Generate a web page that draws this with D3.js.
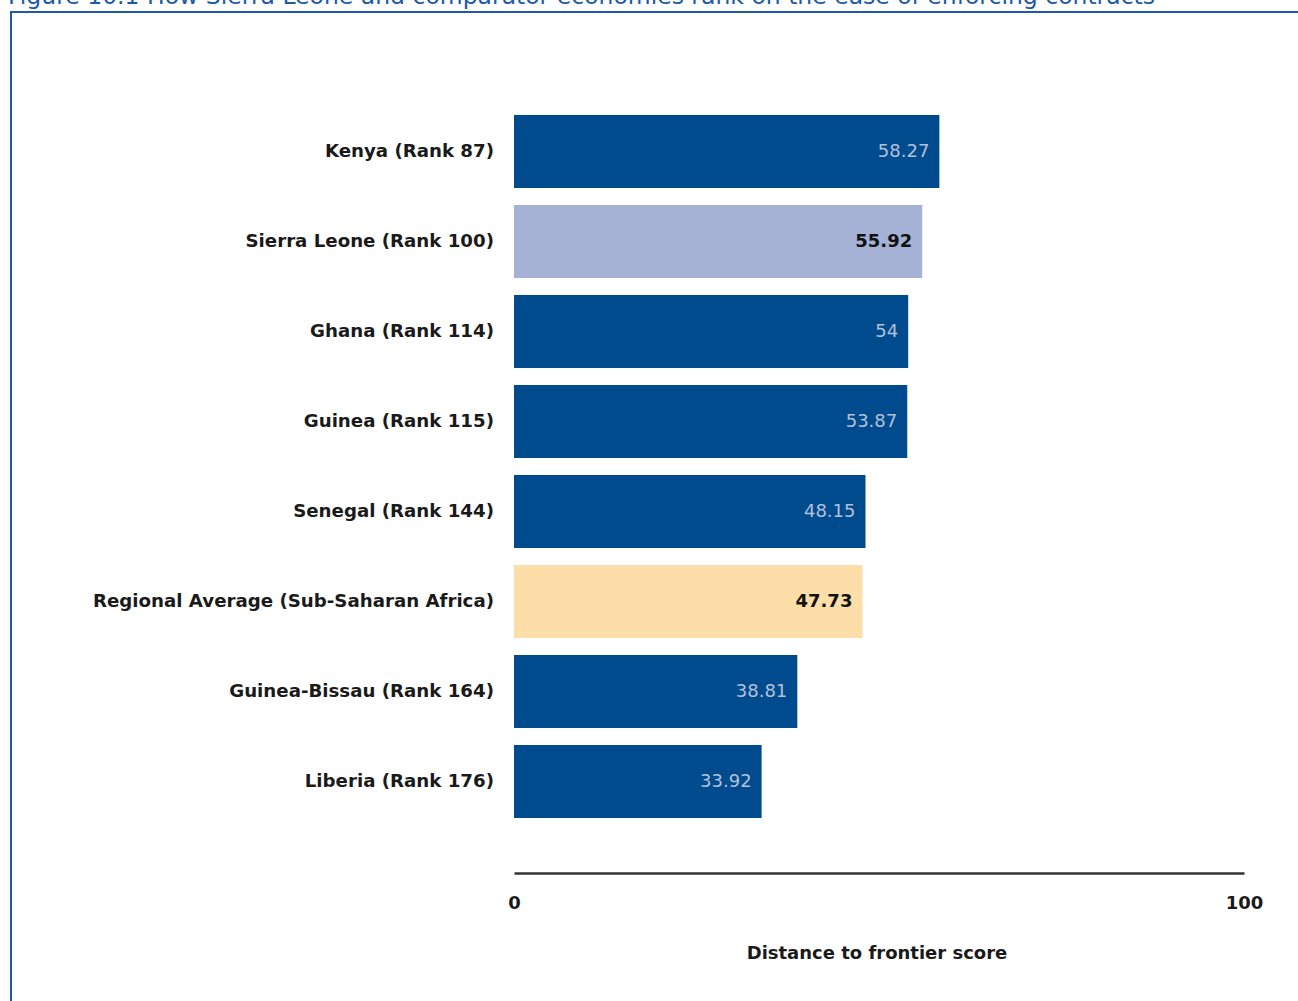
<!DOCTYPE html>
<html>
<head>
<meta charset="utf-8">
<script src="https://cdn.jsdelivr.net/npm/d3@7"></script>
<style>
  body { margin: 0; background: #fff; }
  text { font-family: "DejaVu Sans", sans-serif; }
</style>
</head>
<body>
<script>
// chart data
var countries = ["Kenya (Rank 87)", "Sierra Leone (Rank 100)", "Ghana (Rank 114)", "Guinea (Rank 115)",
                 "Senegal (Rank 144)", "Regional Average (Sub-Saharan Africa)", "Guinea-Bissau (Rank 164)", "Liberia (Rank 176)"];
var scores = [58.27, 55.92, 54, 53.87, 48.15, 47.73, 38.81, 33.92];
var valueLabels = ["58.27", "55.92", "54", "53.87", "48.15", "47.73", "38.81", "33.92"];
var barKind = ["other", "focus", "other", "other", "other", "region", "other", "other"];
var tickValues = [0, 100];

var W = 1298, H = 1001;
var fills = { other: "#004b8d", focus: "#a5b2d5", region: "#fedea8" };
var labelFills = { other: "#b3c0da", focus: "#111", region: "#111" };

var svg = d3.select("body").append("svg")
    .attr("width", W)
    .attr("height", H);

// figure title (cut off at top, as in the source page) and frame
svg.append("text")
    .attr("x", 8)
    .attr("y", 4)
    .attr("font-family", "Noto Sans, sans-serif")
    .attr("font-size", "23.5px")
    .attr("fill", "#1d5aa6")
    .text("Figure 10.1 How Sierra Leone and comparator economies rank on the ease of enforcing contracts");

svg.append("path")
    .attr("d", "M11,1001 V12 H1298")
    .attr("fill", "none")
    .attr("stroke", "#1d5aa6")
    .attr("stroke-width", 2);

// scales
var x = d3.scaleLinear().domain([0, 100]).range([514, 1244]);
var y = d3.scaleBand().domain(countries).range([106, 826]).paddingInner(0.2).paddingOuter(0.1);

var rows = countries.map(function(c, i) {
    return { name: c, value: scores[i], label: valueLabels[i], kind: barKind[i] };
});

// bars
svg.selectAll(".bar")
    .data(rows)
    .enter().append("rect")
    .attr("class", "bar")
    .attr("x", x(0))
    .attr("y", function(d) { return y(d.name); })
    .attr("width", function(d) { return x(d.value) - x(0); })
    .attr("height", y.bandwidth() + 1)
    .attr("fill", function(d) { return fills[d.kind]; });

// value labels inside bars
svg.selectAll(".val")
    .data(rows)
    .enter().append("text")
    .attr("class", "val")
    .attr("x", function(d) { return x(d.value) - 10; })
    .attr("y", function(d) { return y(d.name) + y.bandwidth() / 2; })
    .attr("dy", "0.35em")
    .attr("text-anchor", "end")
    .attr("font-size", "18px")
    .attr("font-weight", function(d) { return d.kind == "other" ? "normal" : "bold"; })
    .attr("fill", function(d) { return labelFills[d.kind]; })
    .text(function(d) { return d.label; });

// category labels
svg.selectAll(".cat")
    .data(rows)
    .enter().append("text")
    .attr("class", "cat")
    .attr("x", 494)
    .attr("y", function(d) { return y(d.name) + y.bandwidth() / 2; })
    .attr("dy", "0.35em")
    .attr("text-anchor", "end")
    .attr("font-size", "18.2px")
    .attr("font-weight", "bold")
    .attr("fill", "#1a1a1a")
    .text(function(d) { return d.name; });

// x axis
var xAxis = d3.axisBottom(x).tickValues(tickValues).tickSize(0).tickPadding(23);
var gX = svg.append("g")
    .attr("transform", "translate(0,873)")
    .call(xAxis);
gX.select(".domain").attr("stroke", "#333").attr("stroke-width", 2.5);
gX.selectAll("text")
    .attr("font-size", "18px")
    .attr("font-weight", "bold")
    .attr("fill", "#1a1a1a")
    .attr("font-family", "DejaVu Sans, sans-serif");

svg.append("text")
    .attr("x", 877)
    .attr("y", 953)
    .attr("dy", "0.35em")
    .attr("text-anchor", "middle")
    .attr("font-size", "18px")
    .attr("font-weight", "bold")
    .attr("fill", "#1a1a1a")
    .text("Distance to frontier score");
</script>
</body>
</html>
